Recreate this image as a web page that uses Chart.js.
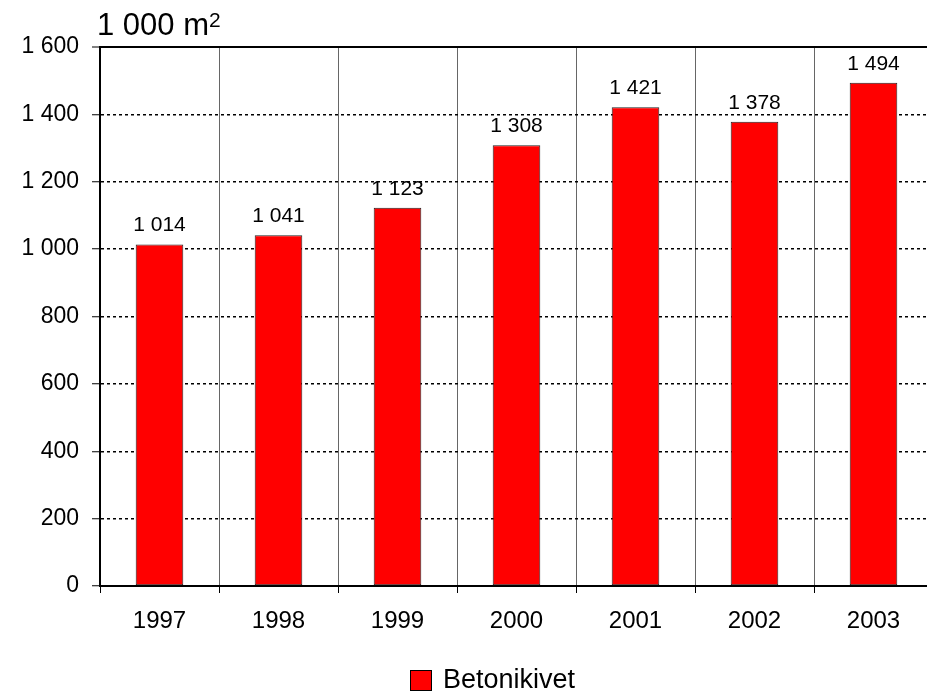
<!DOCTYPE html>
<html>
<head>
<meta charset="utf-8">
<script src="https://cdn.jsdelivr.net/npm/chart.js@4.4.1/dist/chart.umd.min.js"></script>
<style>
    html, body { margin: 0; padding: 0; background: #fff; overflow: hidden; }
    #wrap { width: 933px; height: 693px; }
</style>
</head>
<body>
<div id="wrap"><canvas id="chart" width="933" height="693"></canvas></div>
<script>
// Chart data
const years = ['1997', '1998', '1999', '2000', '2001', '2002', '2003'];
const values = [1014, 1041, 1123, 1308, 1421, 1378, 1494];
const yTicks = [0, 200, 400, 600, 800, 1000, 1200, 1400, 1600];
const unitLabel = '1 000 m';
const unitSup = '2';
const seriesName = 'Betonikivet';

// 1014 -> "1 014"
function fmt(n) {
    return String(n).replace(/\B(?=(\d{3})+(?!\d))/g, ' ');
}

const FONT = "'Liberation Sans', Arial, sans-serif";

// Value labels above the bars
const barLabels = {
    id: 'barLabels',
    afterDatasetsDraw(chart) {
        const ctx = chart.ctx;
        const meta = chart.getDatasetMeta(0);
        ctx.save();
        ctx.font = '21px ' + FONT;
        ctx.fillStyle = '#000';
        ctx.textAlign = 'center';
        ctx.textBaseline = 'alphabetic';
        meta.data.forEach((bar, i) => {
            ctx.fillText(fmt(values[i]), bar.x, bar.y - 13);
        });
        ctx.restore();
    }
};

// Unit text top left and legend at the bottom
const extras = {
    id: 'extras',
    afterDraw(chart) {
        const ctx = chart.ctx;
        ctx.save();
        ctx.fillStyle = '#000';
        ctx.textAlign = 'left';
        ctx.textBaseline = 'alphabetic';
        ctx.font = '31px ' + FONT;
        ctx.fillText(unitLabel, 97, 35);
        const w = ctx.measureText(unitLabel).width;
        ctx.font = '21px ' + FONT;
        ctx.fillText(unitSup, 97 + w, 27);

        ctx.fillStyle = '#ff0000';
        ctx.fillRect(410, 670, 22, 21);
        ctx.strokeStyle = '#000';
        ctx.lineWidth = 1;
        ctx.strokeRect(410.5, 670.5, 21, 20);
        ctx.fillStyle = '#000';
        ctx.font = '27px ' + FONT;
        ctx.textBaseline = 'middle';
        ctx.fillText(seriesName, 443, 681);
        ctx.restore();
    }
};

new Chart(document.getElementById('chart'), {
    type: 'bar',
    data: {
        labels: years,
        datasets: [{
            label: seriesName,
            data: values,
            backgroundColor: '#ff0000',
            borderColor: '#222',
            borderWidth: 1,
            borderSkipped: false,
            categoryPercentage: 1,
            barPercentage: 0.4
        }]
    },
    options: {
        responsive: false,
        animation: false,
        devicePixelRatio: 1,
        layout: { padding: { top: 47, left: 0, right: 0, bottom: 0 } },
        plugins: {
            legend: { display: false },
            tooltip: { enabled: false },
            title: { display: false }
        },
        scales: {
            x: {
                offset: true,
                grid: {
                    offset: true,
                    color: '#666',
                    lineWidth: 1,
                    tickLength: 7,
                    tickColor: '#000'
                },
                border: { display: true, color: '#000', width: 2 },
                ticks: { color: '#000', font: { family: FONT, size: 24 }, padding: 14 },
                afterFit(scale) { scale.height = 107; }
            },
            y: {
                min: 0,
                max: 1600,
                afterBuildTicks(scale) {
                    scale.ticks = yTicks.map(v => ({ value: v }));
                },
                grid: {
                    color: '#000',
                    lineWidth: ctx => (ctx.tick && ctx.tick.value === 1600 ? 2 : 1.5),
                    tickLength: 8,
                    tickColor: '#000',
                    tickWidth: 1
                },
                border: {
                    display: true,
                    color: '#000',
                    width: 2,
                    dash: ctx => (ctx.tick && ctx.tick.value === 1600 ? [] : [3, 3])
                },
                ticks: {
                    color: '#000',
                    font: { family: FONT, size: 23 },
                    padding: 13,
                    callback: v => fmt(v)
                },
                afterFit(scale) { scale.width = 100; }
            }
        }
    },
    plugins: [barLabels, extras]
});
</script>
</body>
</html>
